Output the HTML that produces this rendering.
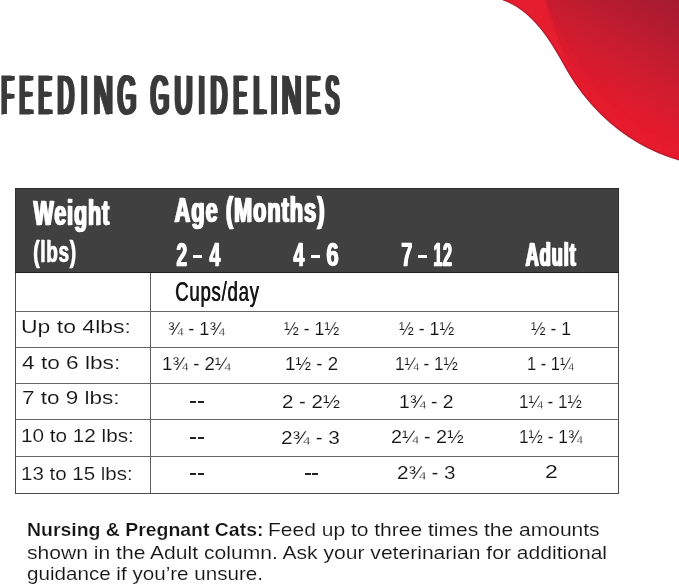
<!DOCTYPE html>
<html><head><meta charset="utf-8"><style>
html,body{margin:0;padding:0;background:#fff;}
body{width:679px;height:585px;position:relative;overflow:hidden;font-family:"Liberation Sans",sans-serif;}
.t{position:absolute;white-space:pre;line-height:1;transform-origin:0 0;}
.r{position:absolute;}
</style></head><body>
<svg class="r" style="left:0;top:0" width="679" height="585" viewBox="0 0 679 585">
<defs>
<linearGradient id="g1" gradientUnits="userSpaceOnUse" x1="688" y1="-8" x2="615" y2="122">
<stop offset="0" stop-color="#a01a30"/>
<stop offset="0.3" stop-color="#b51b2f"/>
<stop offset="0.62" stop-color="#cf1c2f"/>
<stop offset="0.88" stop-color="#e11b2d"/>
<stop offset="1" stop-color="#e61b2d"/>
</linearGradient>
<linearGradient id="g2" gradientUnits="userSpaceOnUse" x1="0" y1="0" x2="0" y2="90">
<stop offset="0" stop-color="#e41c2e" stop-opacity="1"/>
<stop offset="0.6" stop-color="#e81c2e" stop-opacity="0.85"/>
<stop offset="1" stop-color="#e81c2e" stop-opacity="0"/>
</linearGradient>
<clipPath id="cp"><path d="M470,-12 L503,0 C537.4,11.1 557.6,53.8 567.4,70.6 C577.6,88.0 610.3,139.8 679,160 L700,167 L700,-12 Z"/></clipPath>
<filter id="bl" x="-20%" y="-20%" width="140%" height="140%"><feGaussianBlur stdDeviation="1.0"/></filter>
<filter id="bl2" x="-50%" y="-50%" width="200%" height="200%"><feGaussianBlur stdDeviation="7"/></filter>
</defs>
<path d="M470,-12 L503,0 C537.4,11.1 557.6,53.8 567.4,70.6 C577.6,88.0 610.3,139.8 679,160 L700,167 L700,-12 Z" fill="url(#g1)"/>
<g clip-path="url(#cp)">
<path d="M503,0 C537.4,11.1 557.6,53.8 567.4,70.6 C577.6,88.0 610.3,139.8 679,160 L690,163" fill="none" stroke="#e61b2d" stroke-width="16" filter="url(#bl2)" opacity="0.6"/>
<path d="M490,-5 L503,0 C537.4,11.1 557.6,53.8 567.4,70.6 C570,75 572.5,79.5 575,84 C566,62 556,34 545.5,0 L545,-5 Z" fill="url(#g2)" filter="url(#bl)"/>
</g>
<path d="M503,0 C537.4,11.1 557.6,53.8 567.4,70.6 C577.6,88.0 610.3,139.8 679,160 L690,163" fill="none" stroke="#9a0f26" stroke-width="1.1" opacity="0.75"/>
</svg>
<div class="r" style="left:15px;top:188px;width:604px;height:85px;background:#404040;box-sizing:border-box;border:1px solid #2e2e2e;border-bottom-color:#1c1c1c;"></div>
<div class="r" style="left:15px;top:273px;width:1px;height:221px;background:#4a4a4a"></div>
<div class="r" style="left:618px;top:273px;width:1px;height:221px;background:#4a4a4a"></div>
<div class="r" style="left:15px;top:493px;width:604px;height:1px;background:#4a4a4a"></div>
<div class="r" style="left:150px;top:273px;width:1px;height:220px;background:#606060"></div>
<div class="r" style="left:16px;top:311px;width:602px;height:1px;background:#666"></div>
<div class="r" style="left:16px;top:347px;width:602px;height:1px;background:#666"></div>
<div class="r" style="left:16px;top:383px;width:602px;height:1px;background:#666"></div>
<div class="r" style="left:16px;top:419px;width:602px;height:1px;background:#666"></div>
<div class="r" style="left:16px;top:456px;width:602px;height:1px;background:#666"></div>
<div class="r" style="left:190px;top:401px;width:6px;height:2px;background:#222"></div>
<div class="r" style="left:198px;top:401px;width:6px;height:2px;background:#222"></div>
<div class="r" style="left:190px;top:437px;width:6px;height:2px;background:#222"></div>
<div class="r" style="left:198px;top:437px;width:6px;height:2px;background:#222"></div>
<div class="r" style="left:190px;top:473px;width:6px;height:2px;background:#222"></div>
<div class="r" style="left:198px;top:473px;width:6px;height:2px;background:#222"></div>
<div class="r" style="left:305px;top:473px;width:6px;height:2px;background:#222"></div>
<div class="r" style="left:312px;top:473px;width:6px;height:2px;background:#222"></div>
<div class="r" style="left:193.1px;top:254.9px;width:8.7px;height:3.5px;background:#fff"></div>
<div class="r" style="left:310.6px;top:254.9px;width:9.7px;height:3.5px;background:#fff"></div>
<div class="r" style="left:418.4px;top:254.9px;width:8.8px;height:3.5px;background:#fff"></div>

<div class="t" style="left:-0.46px;top:68.11px;font-size:55.75px;font-weight:400;color:#3a3a3a;transform:scaleX(0.3532);text-shadow:1.93px 0 0 #3a3a3a,3.85px 0 0 #3a3a3a,5.78px 0 0 #3a3a3a,7.70px 0 0 #3a3a3a,9.63px 0 0 #3a3a3a;-webkit-text-stroke:1.0px #3a3a3a">F</div>
<div class="t" style="left:17.74px;top:68.11px;font-size:55.75px;font-weight:400;color:#3a3a3a;transform:scaleX(0.3525);text-shadow:1.93px 0 0 #3a3a3a,3.86px 0 0 #3a3a3a,5.79px 0 0 #3a3a3a,7.72px 0 0 #3a3a3a,9.65px 0 0 #3a3a3a;-webkit-text-stroke:1.0px #3a3a3a">E</div>
<div class="t" style="left:37.14px;top:68.11px;font-size:55.75px;font-weight:400;color:#3a3a3a;transform:scaleX(0.3525);text-shadow:1.93px 0 0 #3a3a3a,3.86px 0 0 #3a3a3a,5.79px 0 0 #3a3a3a,7.72px 0 0 #3a3a3a,9.65px 0 0 #3a3a3a;-webkit-text-stroke:1.0px #3a3a3a">E</div>
<div class="t" style="left:56.43px;top:68.11px;font-size:55.75px;font-weight:400;color:#3a3a3a;transform:scaleX(0.4060);text-shadow:1.67px 0 0 #3a3a3a,3.35px 0 0 #3a3a3a,5.02px 0 0 #3a3a3a,6.70px 0 0 #3a3a3a,8.37px 0 0 #3a3a3a;-webkit-text-stroke:1.0px #3a3a3a">D</div>
<div class="t" style="left:79.16px;top:68.11px;font-size:55.75px;font-weight:400;color:#3a3a3a;transform:scaleX(0.4508);text-shadow:1.51px 0 0 #3a3a3a,3.02px 0 0 #3a3a3a,4.52px 0 0 #3a3a3a,6.03px 0 0 #3a3a3a,7.54px 0 0 #3a3a3a;-webkit-text-stroke:1.0px #3a3a3a">I</div>
<div class="t" style="left:91.85px;top:68.11px;font-size:55.75px;font-weight:400;color:#3a3a3a;transform:scaleX(0.4790);text-shadow:1.42px 0 0 #3a3a3a,2.84px 0 0 #3a3a3a,4.26px 0 0 #3a3a3a,5.68px 0 0 #3a3a3a,7.10px 0 0 #3a3a3a;-webkit-text-stroke:1.0px #3a3a3a">N</div>
<div class="t" style="left:116.09px;top:68.11px;font-size:55.75px;font-weight:400;color:#3a3a3a;transform:scaleX(0.4283);text-shadow:1.59px 0 0 #3a3a3a,3.18px 0 0 #3a3a3a,4.76px 0 0 #3a3a3a,6.35px 0 0 #3a3a3a,7.94px 0 0 #3a3a3a;-webkit-text-stroke:1.0px #3a3a3a">G</div>
<div class="t" style="left:148.90px;top:68.11px;font-size:55.75px;font-weight:400;color:#3a3a3a;transform:scaleX(0.4257);text-shadow:1.60px 0 0 #3a3a3a,3.19px 0 0 #3a3a3a,4.79px 0 0 #3a3a3a,6.39px 0 0 #3a3a3a,7.99px 0 0 #3a3a3a;-webkit-text-stroke:1.0px #3a3a3a">G</div>
<div class="t" style="left:173.17px;top:68.11px;font-size:55.75px;font-weight:400;color:#3a3a3a;transform:scaleX(0.4457);text-shadow:1.53px 0 0 #3a3a3a,3.05px 0 0 #3a3a3a,4.58px 0 0 #3a3a3a,6.10px 0 0 #3a3a3a,7.63px 0 0 #3a3a3a;-webkit-text-stroke:1.0px #3a3a3a">U</div>
<div class="t" style="left:196.88px;top:68.11px;font-size:55.75px;font-weight:400;color:#3a3a3a;transform:scaleX(0.3945);text-shadow:1.72px 0 0 #3a3a3a,3.45px 0 0 #3a3a3a,5.17px 0 0 #3a3a3a,6.89px 0 0 #3a3a3a,8.62px 0 0 #3a3a3a;-webkit-text-stroke:1.0px #3a3a3a">I</div>
<div class="t" style="left:209.12px;top:68.11px;font-size:55.75px;font-weight:400;color:#3a3a3a;transform:scaleX(0.4089);text-shadow:1.66px 0 0 #3a3a3a,3.33px 0 0 #3a3a3a,4.99px 0 0 #3a3a3a,6.65px 0 0 #3a3a3a,8.32px 0 0 #3a3a3a;-webkit-text-stroke:1.0px #3a3a3a">D</div>
<div class="t" style="left:232.42px;top:68.11px;font-size:55.75px;font-weight:400;color:#3a3a3a;transform:scaleX(0.3589);text-shadow:1.89px 0 0 #3a3a3a,3.79px 0 0 #3a3a3a,5.68px 0 0 #3a3a3a,7.58px 0 0 #3a3a3a,9.47px 0 0 #3a3a3a;-webkit-text-stroke:1.0px #3a3a3a">E</div>
<div class="t" style="left:251.57px;top:68.11px;font-size:55.75px;font-weight:400;color:#3a3a3a;transform:scaleX(0.3960);text-shadow:1.72px 0 0 #3a3a3a,3.43px 0 0 #3a3a3a,5.15px 0 0 #3a3a3a,6.87px 0 0 #3a3a3a,8.59px 0 0 #3a3a3a;-webkit-text-stroke:1.0px #3a3a3a">L</div>
<div class="t" style="left:268.92px;top:68.11px;font-size:55.75px;font-weight:400;color:#3a3a3a;transform:scaleX(0.4368);text-shadow:1.56px 0 0 #3a3a3a,3.11px 0 0 #3a3a3a,4.67px 0 0 #3a3a3a,6.23px 0 0 #3a3a3a,7.78px 0 0 #3a3a3a;-webkit-text-stroke:1.0px #3a3a3a">I</div>
<div class="t" style="left:279.81px;top:68.11px;font-size:55.75px;font-weight:400;color:#3a3a3a;transform:scaleX(0.4913);text-shadow:1.38px 0 0 #3a3a3a,2.77px 0 0 #3a3a3a,4.15px 0 0 #3a3a3a,5.54px 0 0 #3a3a3a,6.92px 0 0 #3a3a3a;-webkit-text-stroke:1.0px #3a3a3a">N</div>
<div class="t" style="left:305.10px;top:68.11px;font-size:55.75px;font-weight:400;color:#3a3a3a;transform:scaleX(0.3620);text-shadow:1.88px 0 0 #3a3a3a,3.76px 0 0 #3a3a3a,5.63px 0 0 #3a3a3a,7.51px 0 0 #3a3a3a,9.39px 0 0 #3a3a3a;-webkit-text-stroke:1.0px #3a3a3a">E</div>
<div class="t" style="left:324.45px;top:68.11px;font-size:55.75px;font-weight:400;color:#3a3a3a;transform:scaleX(0.3607);text-shadow:1.89px 0 0 #3a3a3a,3.77px 0 0 #3a3a3a,5.66px 0 0 #3a3a3a,7.54px 0 0 #3a3a3a,9.43px 0 0 #3a3a3a;-webkit-text-stroke:1.0px #3a3a3a">S</div>
<div class="t" style="left:32.88px;top:196.00px;font-size:35.70px;font-weight:700;color:#ffffff;letter-spacing:1.78px;transform:scaleX(0.5945);text-shadow:1.26px 0 0 #ffffff,2.52px 0 0 #ffffff;-webkit-text-stroke:0.6px #ffffff">Weight</div>
<div class="t" style="left:32.81px;top:236.65px;font-size:30.00px;font-weight:700;color:#ffffff;letter-spacing:1.20px;transform:scaleX(0.6279);text-shadow:1.11px 0 0 #ffffff;-webkit-text-stroke:0.3px #ffffff">(lbs)</div>
<div class="t" style="left:174.35px;top:193.20px;font-size:34.70px;font-weight:700;color:#ffffff;letter-spacing:1.74px;transform:scaleX(0.6228);text-shadow:1.20px 0 0 #ffffff,2.41px 0 0 #ffffff;-webkit-text-stroke:0.6px #ffffff">Age (Months)</div>
<div class="t" style="left:175.91px;top:237.21px;font-size:33.99px;font-weight:700;color:#ffffff;letter-spacing:1.02px;transform:scaleX(0.5691);text-shadow:0.79px 0 0 #ffffff,1.58px 0 0 #ffffff;-webkit-text-stroke:0.4px #ffffff">2</div>
<div class="t" style="left:209.02px;top:237.21px;font-size:33.99px;font-weight:700;color:#ffffff;letter-spacing:1.02px;transform:scaleX(0.5789);text-shadow:0.78px 0 0 #ffffff,1.55px 0 0 #ffffff;-webkit-text-stroke:0.4px #ffffff">4</div>
<div class="t" style="left:292.91px;top:237.01px;font-size:33.99px;font-weight:700;color:#ffffff;letter-spacing:1.02px;transform:scaleX(0.5738);text-shadow:0.78px 0 0 #ffffff,1.57px 0 0 #ffffff;-webkit-text-stroke:0.4px #ffffff">4</div>
<div class="t" style="left:325.94px;top:237.01px;font-size:33.99px;font-weight:700;color:#ffffff;letter-spacing:1.02px;transform:scaleX(0.6496);text-shadow:0.69px 0 0 #ffffff,1.39px 0 0 #ffffff;-webkit-text-stroke:0.4px #ffffff">6</div>
<div class="t" style="left:401.10px;top:237.01px;font-size:33.99px;font-weight:700;color:#ffffff;letter-spacing:1.02px;transform:scaleX(0.5752);text-shadow:0.78px 0 0 #ffffff,1.56px 0 0 #ffffff;-webkit-text-stroke:0.4px #ffffff">7</div>
<div class="t" style="left:432.98px;top:237.01px;font-size:33.99px;font-weight:700;color:#ffffff;letter-spacing:1.02px;transform:scaleX(0.4799);text-shadow:0.94px 0 0 #ffffff,1.88px 0 0 #ffffff;-webkit-text-stroke:0.4px #ffffff">12</div>
<div class="t" style="left:525.18px;top:236.80px;font-size:33.99px;font-weight:700;color:#ffffff;letter-spacing:1.70px;transform:scaleX(0.5356);text-shadow:1.40px 0 0 #ffffff,2.80px 0 0 #ffffff;-webkit-text-stroke:0.6px #ffffff">Adult</div>
<div class="t" style="left:174.70px;top:278.21px;font-size:27.16px;font-weight:400;color:#161616;letter-spacing:1.09px;transform:scaleX(0.6851);text-shadow:0.58px 0 0 #161616;-webkit-text-stroke:0.2px #161616">Cups/day</div>
<div class="t" style="left:21.49px;top:317.26px;font-size:19.23px;font-weight:400;color:#141414;transform:scaleX(1.1963);-webkit-text-stroke:0.12px #fff">Up to 4lbs:</div>
<div class="t" style="left:22.28px;top:352.67px;font-size:19.23px;font-weight:400;color:#141414;transform:scaleX(1.1783);-webkit-text-stroke:0.12px #fff">4 to 6 lbs:</div>
<div class="t" style="left:22.47px;top:387.97px;font-size:19.23px;font-weight:400;color:#141414;transform:scaleX(1.1710);-webkit-text-stroke:0.12px #fff">7 to 9 lbs:</div>
<div class="t" style="left:21.34px;top:425.86px;font-size:19.23px;font-weight:400;color:#141414;transform:scaleX(1.0767);-webkit-text-stroke:0.12px #fff">10 to 12 lbs:</div>
<div class="t" style="left:21.35px;top:464.06px;font-size:19.23px;font-weight:400;color:#141414;transform:scaleX(1.0668);-webkit-text-stroke:0.12px #fff">13 to 15 lbs:</div>
<div class="t" style="left:168.37px;top:318.67px;font-size:19.23px;font-weight:400;color:#141414;transform:scaleX(0.9460);-webkit-text-stroke:0.12px #fff">¾ - 1¾</div>
<div class="t" style="left:283.67px;top:318.67px;font-size:19.23px;font-weight:400;color:#141414;transform:scaleX(0.9234);-webkit-text-stroke:0.12px #fff">½ - 1½</div>
<div class="t" style="left:399.37px;top:318.67px;font-size:19.23px;font-weight:400;color:#141414;transform:scaleX(0.9234);-webkit-text-stroke:0.12px #fff">½ - 1½</div>
<div class="t" style="left:530.87px;top:318.67px;font-size:19.23px;font-weight:400;color:#141414;transform:scaleX(0.9128);-webkit-text-stroke:0.12px #fff">½ - 1</div>
<div class="t" style="left:161.87px;top:354.36px;font-size:19.23px;font-weight:400;color:#141414;transform:scaleX(0.9711);-webkit-text-stroke:0.12px #fff">1¾ - 2¼</div>
<div class="t" style="left:284.67px;top:354.36px;font-size:19.23px;font-weight:400;color:#141414;transform:scaleX(0.9750);-webkit-text-stroke:0.12px #fff">1½ - 2</div>
<div class="t" style="left:395.37px;top:353.86px;font-size:19.23px;font-weight:400;color:#141414;transform:scaleX(0.8923);-webkit-text-stroke:0.12px #fff">1¼ - 1½</div>
<div class="t" style="left:527.22px;top:353.86px;font-size:19.23px;font-weight:400;color:#141414;transform:scaleX(0.8551);-webkit-text-stroke:0.12px #fff">1 - 1¼</div>
<div class="t" style="left:281.98px;top:392.06px;font-size:19.23px;font-weight:400;color:#141414;transform:scaleX(1.0645);-webkit-text-stroke:0.12px #fff">2 - 2½</div>
<div class="t" style="left:399.24px;top:391.76px;font-size:19.23px;font-weight:400;color:#141414;transform:scaleX(1.0017);-webkit-text-stroke:0.12px #fff">1¾ - 2</div>
<div class="t" style="left:519.37px;top:391.76px;font-size:19.23px;font-weight:400;color:#141414;transform:scaleX(0.8923);-webkit-text-stroke:0.12px #fff">1¼ - 1½</div>
<div class="t" style="left:281.46px;top:427.76px;font-size:19.23px;font-weight:400;color:#141414;transform:scaleX(1.0814);-webkit-text-stroke:0.12px #fff">2¾ - 3</div>
<div class="t" style="left:390.61px;top:427.36px;font-size:19.23px;font-weight:400;color:#141414;transform:scaleX(1.0302);-webkit-text-stroke:0.12px #fff">2¼ - 2½</div>
<div class="t" style="left:518.57px;top:427.36px;font-size:19.23px;font-weight:400;color:#141414;transform:scaleX(0.8979);-webkit-text-stroke:0.12px #fff">1½ - 1¾</div>
<div class="t" style="left:397.27px;top:463.17px;font-size:19.23px;font-weight:400;color:#141414;transform:scaleX(1.0757);-webkit-text-stroke:0.12px #fff">2¾ - 3</div>
<div class="t" style="left:544.75px;top:462.17px;font-size:19.23px;font-weight:400;color:#141414;transform:scaleX(1.1919);-webkit-text-stroke:0.12px #fff">2</div>
<div class="t" style="left:26.68px;top:521.11px;font-size:18.20px;font-weight:700;color:#141414;transform:scaleX(1.0683);-webkit-text-stroke:0.2px #fff">Nursing &amp; Pregnant Cats:</div>
<div class="t" style="left:268.39px;top:521.07px;font-size:18.09px;font-weight:400;color:#141414;transform:scaleX(1.1619);-webkit-text-stroke:0.12px #fff">Feed up to three times the amounts</div>
<div class="t" style="left:27.10px;top:543.57px;font-size:18.09px;font-weight:400;color:#141414;transform:scaleX(1.1661);-webkit-text-stroke:0.12px #fff">shown in the Adult column. Ask your veterinarian for additional</div>
<div class="t" style="left:27.09px;top:565.38px;font-size:18.09px;font-weight:400;color:#141414;transform:scaleX(1.1399);-webkit-text-stroke:0.12px #fff">guidance if you’re unsure.</div>
</body></html>
